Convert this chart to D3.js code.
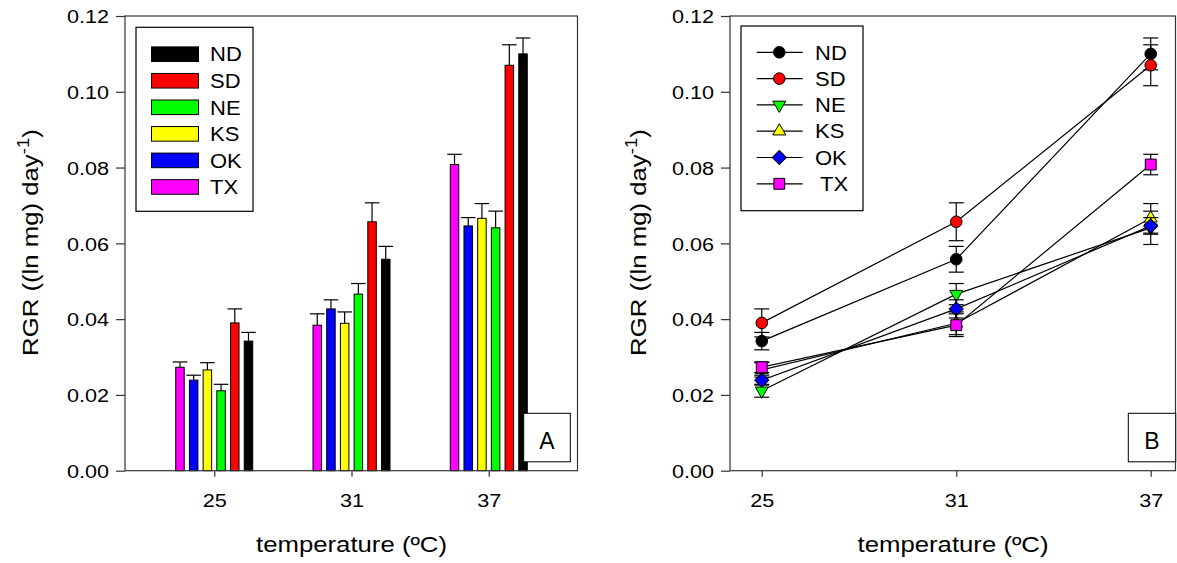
<!DOCTYPE html>
<html>
<head>
<meta charset="utf-8">
<script src="https://cdn.jsdelivr.net/npm/d3@7"></script>
<style>
  body { margin: 0; background: #fff; }
  svg text { font-family: Arial, "Liberation Sans", sans-serif; fill: #000; }
</style>
</head>
<body>
<svg id="fig" width="1177" height="563"></svg>
<script>
// Growth temperatures (°C)
const temps = [25, 31, 37];
// Populations, in legend order
const populations = ["ND", "SD", "NE", "KS", "OK", "TX"];
// Left-to-right order of bars inside each temperature group
const barOrder = ["TX", "OK", "KS", "NE", "SD", "ND"];
const popColors = ["#000000", "#ff0000", "#00ff00", "#ffff00", "#0000ff", "#ff00ff"];

// Mean relative growth rate, (ln mg) day^-1, at 25 / 31 / 37 °C
const ND = [0.0342, 0.0558, 0.1100];
const SD = [0.0390, 0.0657, 0.1070];
const NE = [0.0211, 0.0466, 0.0641];
const KS = [0.0266, 0.0389, 0.0666];
const OK = [0.0239, 0.0427, 0.0646];
const TX = [0.0273, 0.0384, 0.0808];

// Standard errors
const ND_se = [0.0023, 0.0034, 0.0042];
const SD_se = [0.0037, 0.0050, 0.0054];
const NE_se = [0.0017, 0.0028, 0.0044];
const KS_se = [0.0019, 0.0030, 0.0039];
const OK_se = [0.0013, 0.0024, 0.0022];
const TX_se = [0.0014, 0.0030, 0.0027];

const yTicks = [0.00, 0.02, 0.04, 0.06, 0.08, 0.10, 0.12];
const xTitle = "temperature (ºC)";
const panelLabels = ["A", "B"];

// lookup tables built from the arrays above
const means = { ND, SD, NE, KS, OK, TX };
const errs = { ND: ND_se, SD: SD_se, NE: NE_se, KS: KS_se, OK: OK_se, TX: TX_se };
const color = d3.scaleOrdinal().domain(populations).range(popColors);

const svg = d3.select("#fig");
const SX = 1.17;             // wide glyph proportions for axis text
const FONT = 'Arial, "Liberation Sans", sans-serif';
const axisCol = "#333";

const yTop = 16, yBot = 470.7;
const y = d3.scaleLinear().domain([0, 0.12]).range([yBot, yTop]);
const xA = d3.scaleLinear().domain([21.1, 40.9]).range([125, 578]);
const xB = d3.scaleLinear().domain([24.02, 37.78]).range([730, 1176]);

function addText(parent, x, y0, str, size, anchor, sx) {
  return parent.append("text")
    .attr("transform", `translate(${x},${y0}) scale(${sx || SX},1)`)
    .attr("text-anchor", anchor || "start")
    .style("font-size", size + "px")
    .text(str);
}

function drawAxes(x, titleX) {
  const [x0, x1] = x.range();
  // frame
  svg.append("rect")
    .attr("x", x0).attr("y", yTop)
    .attr("width", x1 - x0 - 0.5).attr("height", yBot - yTop)
    .attr("fill", "none").attr("stroke", axisCol).attr("stroke-width", 1.2);

  const gy = svg.append("g")
    .attr("transform", `translate(${x0},0)`)
    .call(d3.axisLeft(y).tickValues(yTicks).tickFormat(d3.format(".2f")).tickSize(9).tickSizeOuter(0));
  gy.select(".domain").remove();
  gy.attr("font-family", FONT).attr("font-size", 18.5);
  gy.selectAll(".tick line").attr("stroke", axisCol).attr("stroke-width", 1.2);
  gy.selectAll(".tick text")
    .attr("x", null).attr("dy", "0.36em").attr("fill", "#000")
    .attr("transform", `translate(-16,0) scale(${SX},1)`);

  const gx = svg.append("g")
    .attr("transform", `translate(0,${yBot})`)
    .call(d3.axisBottom(x).tickValues(temps).tickFormat(d3.format("d")).tickSize(6).tickSizeOuter(0));
  gx.select(".domain").remove();
  gx.attr("font-family", FONT).attr("font-size", 18.5);
  gx.selectAll(".tick line").attr("stroke", axisCol).attr("stroke-width", 1.2);
  gx.selectAll(".tick text")
    .attr("y", null).attr("dy", null).attr("fill", "#000")
    .attr("transform", `translate(0,36.6) scale(${SX},1)`);

  // axis titles
  addText(svg, (x0 + x1) / 2, 551.7, xTitle, 22, "middle");
  const yt = svg.append("text")
    .attr("transform", `translate(${titleX},242.5) rotate(-90) scale(${SX},1)`)
    .attr("text-anchor", "middle")
    .attr("dy", "0.3em")
    .style("font-size", "22px");
  yt.append("tspan").text("RGR ((ln mg) day");
  yt.append("tspan").attr("dy", "-0.55em").style("font-size", "16px").text("-1");
  yt.append("tspan").attr("dy", "0.4em").text(")");
}

function panelLabel(x0, x1, label) {
  svg.append("rect")
    .attr("x", x0).attr("y", 413.3).attr("width", x1 - x0).attr("height", 48.5)
    .attr("fill", "#fff").attr("stroke", "#000").attr("stroke-width", 1);
  addText(svg, (x0 + x1) / 2, 449, label, 23, "middle", 1);
}

// ---------- Panel A: grouped bars ----------
const band = d3.scaleBand().domain(barOrder).range([-41.1, 41.1])
  .paddingInner(0.38).paddingOuter(0.19);

const gA = svg.append("g");
temps.forEach((t, i) => {
  barOrder.forEach(p => {
    const v = means[p][i], e = errs[p][i];
    const bx = xA(t) + band(p);
    const cx = bx + band.bandwidth() / 2;
    gA.append("rect")
      .attr("x", bx).attr("y", y(v))
      .attr("width", band.bandwidth()).attr("height", y(0) - y(v))
      .attr("fill", color(p)).attr("stroke", "#000").attr("stroke-width", 1);
    gA.append("line")
      .attr("x1", cx).attr("x2", cx).attr("y1", y(v)).attr("y2", y(v + e))
      .attr("stroke", "#000").attr("stroke-width", 1.2);
    gA.append("line")
      .attr("x1", cx - 7.3).attr("x2", cx + 7.3).attr("y1", y(v + e)).attr("y2", y(v + e))
      .attr("stroke", "#000").attr("stroke-width", 1.2);
  });
});
drawAxes(xA, 31.5);

// legend A
const legA = svg.append("g");
legA.append("rect").attr("x", 136).attr("y", 27.3).attr("width", 117).attr("height", 184)
  .attr("fill", "#fff").attr("stroke", "#000").attr("stroke-width", 1.2);
populations.forEach((p, k) => {
  const cy = 54.2 + k * 26.55;
  legA.append("rect").attr("x", 151.5).attr("y", cy - 7.3).attr("width", 47).attr("height", 14.6)
    .attr("fill", color(p)).attr("stroke", "#000").attr("stroke-width", 1);
  addText(legA, 210, cy + 7.2, p, 20, "start", 1.1);
});
panelLabel(523.7, 570.3, panelLabels[0]);

// ---------- Panel B: lines with markers ----------
const shapes = {
  ND: { type: d3.symbolCircle, size: 106, rot: 0 },
  SD: { type: d3.symbolCircle, size: 106, rot: 0 },
  NE: { type: d3.symbolTriangle, size: 73, rot: 180 },
  KS: { type: d3.symbolTriangle, size: 73, rot: 0 },
  OK: { type: d3.symbolSquare, size: 98, rot: 45 },
  TX: { type: d3.symbolSquare, size: 118, rot: 0 }
};
function marker(g, p, cx, cy) {
  const s = shapes[p];
  g.append("path")
    .attr("d", d3.symbol().type(s.type).size(s.size)())
    .attr("transform", `translate(${cx},${cy}) rotate(${s.rot})`)
    .attr("fill", color(p)).attr("stroke", "#000").attr("stroke-width", 1);
}

drawAxes(xB, 639);
const gB = svg.append("g");
const line = d3.line().x((d, i) => xB(temps[i])).y(d => y(d));
populations.forEach(p => {
  gB.append("path").attr("d", line(means[p]))
    .attr("fill", "none").attr("stroke", "#000").attr("stroke-width", 1.2);
});
populations.forEach(p => {
  temps.forEach((t, i) => {
    const v = means[p][i], e = errs[p][i], cx = xB(t);
    gB.append("line").attr("x1", cx).attr("x2", cx).attr("y1", y(v - e)).attr("y2", y(v + e))
      .attr("stroke", "#000").attr("stroke-width", 1.2);
    [v - e, v + e].forEach(w => {
      gB.append("line").attr("x1", cx - 7.5).attr("x2", cx + 7.5).attr("y1", y(w)).attr("y2", y(w))
        .attr("stroke", "#000").attr("stroke-width", 1.2);
    });
  });
  temps.forEach((t, i) => marker(gB, p, xB(t), y(means[p][i])));
});

// legend B
const legB = svg.append("g");
legB.append("rect").attr("x", 741).attr("y", 26).attr("width", 122).attr("height", 184.7)
  .attr("fill", "#fff").attr("stroke", "#000").attr("stroke-width", 1.2);
populations.forEach((p, k) => {
  const cy = 52.3 + k * 26.3;
  legB.append("line").attr("x1", 756.7).attr("x2", 802.7).attr("y1", cy).attr("y2", cy)
    .attr("stroke", "#000").attr("stroke-width", 1.2);
  marker(legB, p, 779.3, cy);
  addText(legB, p === "TX" ? 820 : 815, cy + 7.2, p, 20, "start", 1.1);
});
panelLabel(1128.3, 1175.7, panelLabels[1]);
</script>
</body>
</html>
